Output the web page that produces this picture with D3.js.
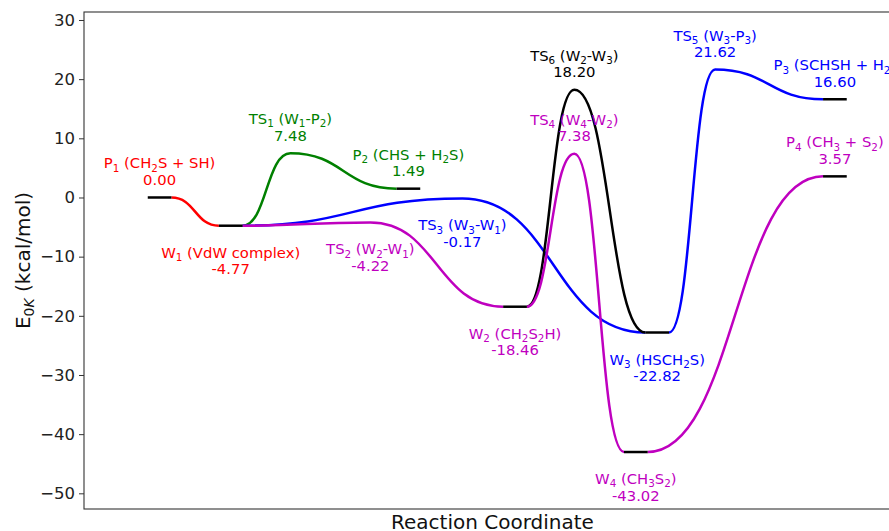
<!DOCTYPE html>
<html>
<head>
<meta charset="utf-8">
<script src="https://cdn.jsdelivr.net/npm/d3@7"></script>
<style>
  body { margin: 0; background: #fff; }
  svg { display: block; }
  text { font-family: "DejaVu Sans", sans-serif; white-space: pre; }
</style>
</head>
<body>
<svg id="chart" width="889" height="531"></svg>
<script>
// ---- Minima (reactants, complexes, products) ----
const minimaIds    = ["P1", "W1", "P2", "W2", "W3", "W4", "P3", "P4"];
const minimaX      = [1, 3, 8, 11, 15, 14.4, 20, 20];
const minimaE      = [0.00, -4.77, 1.49, -18.46, -22.82, -43.02, 16.60, 3.57];
const minimaLabels = ["P_{1} (CH_{2}S + SH)", "W_{1} (VdW complex)", "P_{2} (CHS + H_{2}S)",
                      "W_{2} (CH_{2}S_{2}H)", "W_{3} (HSCH_{2}S)", "W_{4} (CH_{3}S_{2})",
                      "P_{3} (SCHSH + H_{2})", "P_{4} (CH_{3} + S_{2})"];
const minimaColors = ["#ff0000", "#ff0000", "#008000", "#bf00bf", "#0000ff", "#bf00bf", "#0000ff", "#bf00bf"];
const minimaSide   = ["above", "below", "above", "below", "below", "below", "above", "above"];

// ---- Transition states ----
const tsIds    = ["TS1", "TS2", "TS3", "TS4", "TS5", "TS6"];
const tsX      = [4.68, 6.93, 9.52, 12.67, 16.63, 12.67];
const tsE      = [7.48, -4.22, -0.17, 7.38, 21.62, 18.20];
const tsLabels = ["TS_{1} (W_{1}-P_{2})", "TS_{2} (W_{2}-W_{1})", "TS_{3} (W_{3}-W_{1})",
                  "TS_{4} (W_{4}-W_{2})", "TS_{5} (W_{3}-P_{3})", "TS_{6} (W_{2}-W_{3})"];
const tsColors = ["#008000", "#bf00bf", "#0000ff", "#bf00bf", "#0000ff", "#000000"];
const tsSide   = ["above", "below", "below", "above", "above", "above"];

// ---- Reaction pathways: start minimum, transition state (if any), end minimum ----
const pathFrom   = ["P1", "W1", "W1", "W1", "W2", "W2", "W3", "W4"];
const pathVia    = [null, "TS1", "TS3", "TS2", "TS6", "TS4", "TS5", null];
const pathTo     = ["W1", "P2", "W3", "W2", "W3", "W4", "P3", "P4"];
const pathColors = ["#ff0000", "#008000", "#0000ff", "#bf00bf", "#000000", "#bf00bf", "#0000ff", "#bf00bf"];

// ---- Axis ----
const yTicks = [-50, -40, -30, -20, -10, 0, 10, 20, 30];
const yLimits = [-52.65, 31.35];
const xLimits = [-1.127, 21.86];
const levelWidth = 2 / 3;

const svg = d3.select("#chart");
const plot = { left: 84, top: 12, right: 901, bottom: 509 };

const x = d3.scaleLinear().domain(xLimits).range([plot.left, plot.right]);
const y = d3.scaleLinear().domain(yLimits).range([plot.bottom, plot.top]);

const minima = new Map(minimaIds.map((id, i) => [id, { x: minimaX[i], e: minimaE[i] }]));
const states = new Map(tsIds.map((id, i) => [id, { x: tsX[i], e: tsE[i] }]));

// Smooth connections with horizontal tangents at every stationary point
const line = d3.line().x(d => x(d[0])).y(d => y(d[1])).curve(d3.curveBumpX);

const curves = svg.append("g");
pathFrom.forEach((from, i) => {
  const a = minima.get(from), b = minima.get(pathTo[i]);
  const pts = [[a.x + levelWidth / 2, a.e]];
  if (pathVia[i]) { const t = states.get(pathVia[i]); pts.push([t.x, t.e]); }
  pts.push([b.x - levelWidth / 2, b.e]);
  curves.append("path")
    .attr("d", line(pts))
    .attr("fill", "none")
    .attr("stroke", pathColors[i])
    .attr("stroke-width", 2.5);
});

// Energy levels of the minima
svg.append("g").selectAll("line")
  .data(minimaIds)
  .join("line")
  .attr("x1", (d, i) => x(minimaX[i] - levelWidth / 2))
  .attr("x2", (d, i) => x(minimaX[i] + levelWidth / 2))
  .attr("y1", (d, i) => y(minimaE[i]))
  .attr("y2", (d, i) => y(minimaE[i]))
  .attr("stroke", "#000")
  .attr("stroke-width", 2.5);

// Text with _{...} subscripts
function richText(parent, str, px, py, size, color) {
  const t = parent.append("text")
    .attr("x", px).attr("y", py)
    .attr("text-anchor", "middle")
    .attr("font-size", size)
    .attr("fill", color);
  const shift = size * 0.22;
  let lowered = false;
  str.split(/(_\{[^}]*\})/).filter(s => s.length).forEach(part => {
    if (part.startsWith("_{")) {
      t.append("tspan")
        .attr("font-size", size * 0.7)
        .attr("dy", lowered ? 0 : shift)
        .text(part.slice(2, -1));
      lowered = true;
    } else {
      t.append("tspan")
        .attr("dy", lowered ? -shift : 0)
        .text(part);
      lowered = false;
    }
  });
  return t;
}

const labelSize = 14.8;
const labels = svg.append("g");
function annotate(px, energy, text, color, side) {
  const py = y(energy);
  const b1 = side === "above" ? py - 29 : py + 32;
  const b2 = side === "above" ? py - 12.6 : py + 48.5;
  richText(labels, text, px, b1, labelSize, color);
  labels.append("text")
    .attr("x", px).attr("y", b2)
    .attr("text-anchor", "middle")
    .attr("font-size", labelSize)
    .attr("fill", color)
    .text(energy.toFixed(2));
}
minimaIds.forEach((id, i) => annotate(x(minimaX[i]), minimaE[i], minimaLabels[i], minimaColors[i], minimaSide[i]));
tsIds.forEach((id, i) => annotate(x(tsX[i]), tsE[i], tsLabels[i], tsColors[i], tsSide[i]));

// Y axis
const yAxis = svg.append("g")
  .attr("transform", `translate(${plot.left},0)`)
  .call(d3.axisLeft(y).tickValues(yTicks).tickSize(5).tickPadding(4).tickSizeOuter(0));
yAxis.select(".domain").remove();
yAxis.selectAll(".tick line").attr("stroke", "#333").attr("stroke-width", 1);
yAxis.selectAll(".tick text")
  .attr("font-family", "DejaVu Sans, sans-serif")
  .attr("font-size", 16.5)
  .attr("fill", "#222");

// Frame
const frame = svg.append("g").attr("stroke", "#333").attr("stroke-width", 1.1).attr("fill", "none");
frame.append("rect")
  .attr("x", plot.left).attr("y", plot.top)
  .attr("width", plot.right - plot.left).attr("height", plot.bottom - plot.top);

// Axis titles
svg.append("text")
  .attr("x", (plot.left + plot.right) / 2).attr("y", 528.5)
  .attr("text-anchor", "middle")
  .attr("font-size", 20)
  .attr("fill", "#111")
  .text("Reaction Coordinate");

const yTitle = svg.append("text")
  .attr("transform", `translate(30,${(plot.top + plot.bottom) / 2}) rotate(-90)`)
  .attr("text-anchor", "middle")
  .attr("font-size", 20)
  .attr("fill", "#111");
yTitle.append("tspan").text("E");
yTitle.append("tspan").attr("font-size", 14).attr("dy", 4).text("0");
yTitle.append("tspan").attr("font-size", 14).attr("font-style", "italic").text("K");
yTitle.append("tspan").attr("dy", -4).text(" (kcal/mol)");
</script>
</body>
</html>
